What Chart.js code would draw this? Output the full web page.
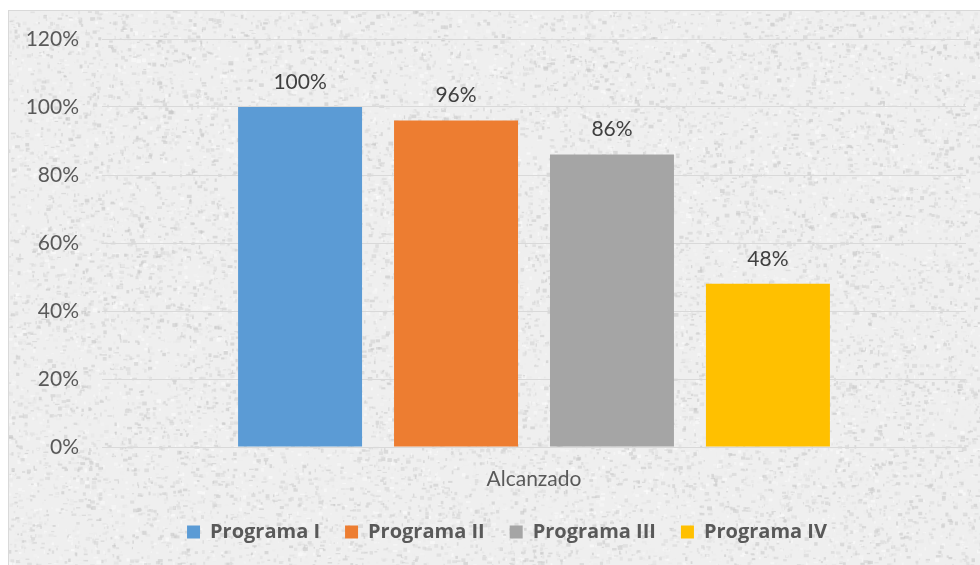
<!DOCTYPE html>
<html>
<head>
<meta charset="utf-8">
<script src="https://cdn.jsdelivr.net/npm/chart.js@4.4.1/dist/chart.umd.min.js"></script>
<style>
  html, body { margin: 0; padding: 0; background: #fff; }
  #wrap { width: 980px; height: 565px; }
</style>
</head>
<body>
<div id="wrap"><canvas id="myChart" width="980" height="565"></canvas></div>
<script>
// datos del gráfico
var categorias = ['Alcanzado'];
var series = ['Programa I', 'Programa II', 'Programa III', 'Programa IV'];
var valores = [100, 96, 86, 48];
var colores = ['#5b9bd5', '#ed7d31', '#a5a5a5', '#ffc000'];
var ticksY = [0, 20, 40, 60, 80, 100, 120];

// textura de fondo (granito claro)
function makeTexture(w, h) {
  var c = document.createElement('canvas');
  c.width = w; c.height = h;
  var g = c.getContext('2d');
  g.fillStyle = '#efefef';
  g.fillRect(0, 0, w, h);
  var seed = 7;
  function rnd() { seed = (seed * 16807) % 2147483647; return seed / 2147483647; }
  for (var i = 0; i < 22000; i++) {
    var v = Math.floor(195 + rnd() * 60);
    g.fillStyle = 'rgba(' + v + ',' + v + ',' + v + ',0.55)';
    g.fillRect(rnd() * w, rnd() * h, 1 + rnd() * 4, 1 + rnd() * 3);
  }
  return c;
}
var textura = makeTexture(972, 555);

var fondo = {
  id: 'fondo',
  afterLayout: function(chart) {
    // mover la leyenda para que quede como en el original
    chart.legend.left = 48;
    chart.legend.top = 497;
  },
  beforeDraw: function(chart) {
    var ctx = chart.ctx;
    ctx.save();
    ctx.fillStyle = '#ffffff';
    ctx.fillRect(0, 0, chart.width, chart.height);
    ctx.drawImage(textura, 8, 10);
    ctx.strokeStyle = '#d9d9d9';
    ctx.lineWidth = 1;
    ctx.strokeRect(8.5, 10.5, 980, 560);
    ctx.restore();
  }
};

var etiquetas = {
  id: 'etiquetas',
  afterDatasetsDraw: function(chart) {
    var ctx = chart.ctx;
    ctx.save();
    ctx.font = '21px Lato, "Open Sans", sans-serif';
    ctx.fillStyle = '#404040';
    ctx.textAlign = 'center';
    ctx.textBaseline = 'middle';
    chart.data.datasets.forEach(function(ds, i) {
      var bar = chart.getDatasetMeta(i).data[0];
      ctx.fillText(ds.data[0] + '%', bar.x, bar.y - 25);
    });
    ctx.restore();
  }
};

var datasets = series.map(function(nombre, i) {
  return {
    label: nombre,
    data: [valores[i]],
    backgroundColor: colores[i],
    categoryPercentage: 0.722,
    barPercentage: 0.795
  };
});

var ctx = document.getElementById('myChart').getContext('2d');
var chart = new Chart(ctx, {
  type: 'bar',
  data: { labels: categorias, datasets: datasets },
  plugins: [fondo, etiquetas],
  options: {
    responsive: false,
    animation: false,
    layout: { padding: { left: 8, top: 39, right: 14, bottom: 2 } },
    plugins: {
      tooltip: { enabled: false },
      legend: {
        position: 'bottom',
        labels: {
          boxWidth: 13,
          boxHeight: 13,
          padding: 25,
          color: '#595959',
          font: { family: '"Open Sans", sans-serif', size: 20, weight: 'bold' }
        }
      }
    },
    scales: {
      x: {
        grid: { display: false },
        border: { display: false },
        ticks: {
          color: '#595959',
          padding: 12,
          font: { family: 'Lato, "Open Sans", sans-serif', size: 21 }
        },
        afterFit: function(scale) { scale.height = 61; }
      },
      y: {
        min: 0,
        max: 120,
        afterBuildTicks: function(scale) {
          scale.ticks = ticksY.map(function(v) { return { value: v }; });
        },
        grid: { color: '#d9d9d9', drawTicks: false },
        border: { display: false },
        ticks: {
          color: '#595959',
          padding: 23,
          font: { family: 'Lato, "Open Sans", sans-serif', size: 21 },
          callback: function(v) { return v + '%'; }
        },
        afterFit: function(scale) { scale.width = 94; }
      }
    }
  }
});
</script>
</body>
</html>
